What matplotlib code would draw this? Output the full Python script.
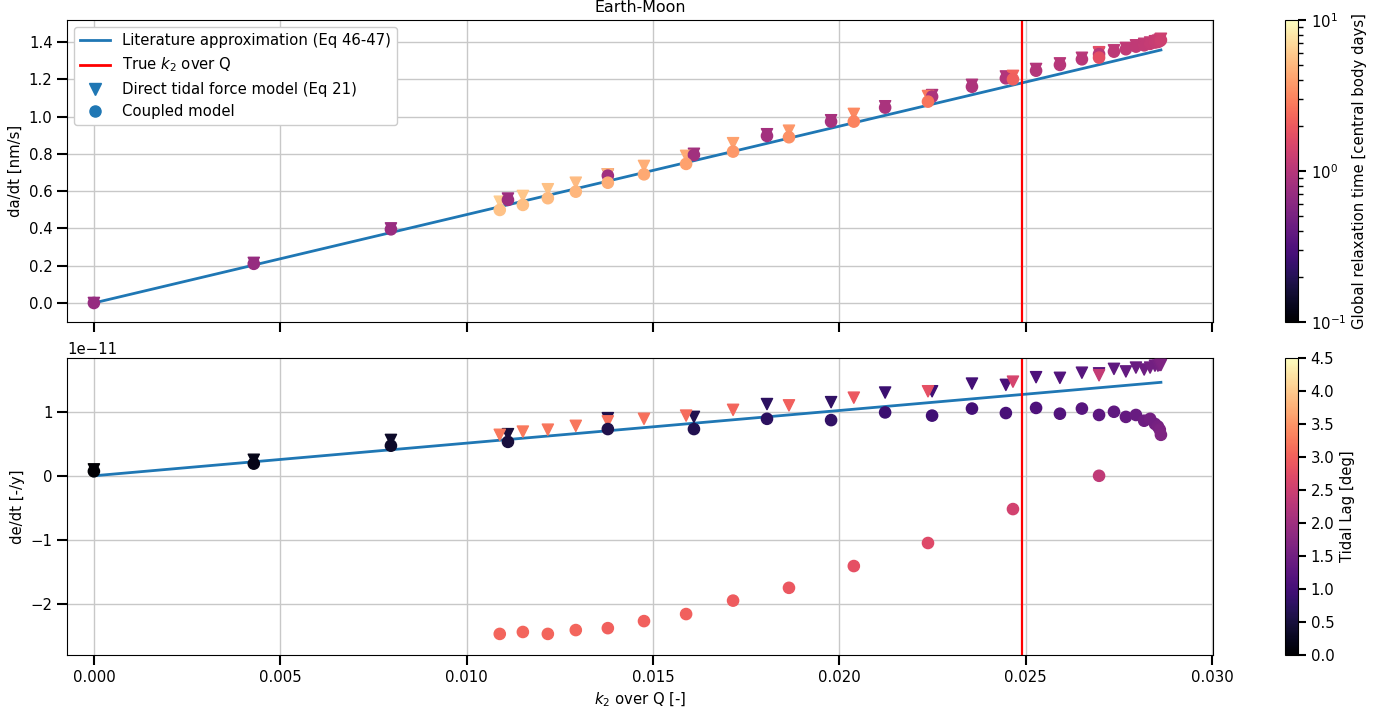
import numpy as np
import matplotlib
matplotlib.use("Agg")
import matplotlib.pyplot as plt
from matplotlib.colors import LogNorm, Normalize
from matplotlib.cm import ScalarMappable
from matplotlib.lines import Line2D

# sweep A (low relaxation time branch)
a_k2q = [0.0, 0.00429, 0.00797, 0.01111, 0.01379, 0.01610, 0.01806, 0.01978, 0.02123,
         0.02249, 0.02356, 0.02447, 0.02528, 0.02592, 0.02651, 0.02697, 0.02737, 0.02769,
         0.02796, 0.02818, 0.02834, 0.02847, 0.02855, 0.02860, 0.02863]
a_dadt_direct = [0.0, 0.215, 0.40, 0.56, 0.69, 0.80, 0.905, 0.98, 1.055, 1.115, 1.17, 1.215,
                 1.255, 1.285, 1.315, 1.342, 1.355, 1.368, 1.382, 1.39, 1.397, 1.404, 1.407,
                 1.412, 1.417]
a_dadt_coupled = [0.0, 0.21, 0.395, 0.553, 0.683, 0.794, 0.896, 0.973, 1.048, 1.107, 1.16,
                  1.205, 1.246, 1.277, 1.307, 1.335, 1.348, 1.361, 1.375, 1.382, 1.39, 1.397,
                  1.40, 1.405, 1.41]
a_dedt_direct = [0.10, 0.25, 0.56, 0.65, 0.90, 0.92, 1.12, 1.15, 1.30, 1.32, 1.44, 1.42, 1.54,
                 1.53, 1.61, 1.60, 1.67, 1.63, 1.69, 1.66, 1.69, 1.72, 1.72, 1.73, 1.73]
a_dedt_coupled = [0.07, 0.19, 0.47, 0.53, 0.73, 0.73, 0.89, 0.87, 0.99, 0.94, 1.05, 0.98, 1.06,
                  0.97, 1.05, 0.95, 1.00, 0.92, 0.95, 0.86, 0.89, 0.81, 0.77, 0.72, 0.64]
a_relax = [0.70, 0.70, 0.72, 0.75, 0.78, 0.80, 0.82, 0.85, 0.87, 0.90, 0.92, 0.95, 0.98, 1.0,
           1.02, 1.05, 1.08, 1.10, 1.12, 1.15, 1.18, 1.20, 1.22, 1.25, 1.30]
a_lag = [0.0, 0.2, 0.35, 0.5, 0.6, 0.65, 0.75, 0.8, 0.9, 0.95, 1.0, 1.05, 1.1, 1.15, 1.2, 1.25,
         1.3, 1.35, 1.4, 1.45, 1.5, 1.5, 1.55, 1.6, 1.65]

# sweep B (high relaxation time branch)
b_k2q = [0.01089, 0.01151, 0.01218, 0.01293, 0.01379, 0.01476, 0.01589, 0.01715, 0.01865,
         0.02039, 0.02238, 0.02466, 0.02697]
b_dadt_direct = [0.543, 0.574, 0.61, 0.645, 0.69, 0.735, 0.789, 0.857, 0.924, 1.014, 1.11,
                 1.218, 1.345]
b_dadt_coupled = [0.499, 0.526, 0.562, 0.597, 0.645, 0.69, 0.746, 0.812, 0.889, 0.973, 1.08,
                  1.20, 1.316]
b_dedt_direct = [0.64, 0.69, 0.72, 0.78, 0.85, 0.89, 0.94, 1.03, 1.10, 1.22, 1.32, 1.47, 1.57]
b_dedt_coupled = [-2.47, -2.44, -2.47, -2.41, -2.38, -2.27, -2.16, -1.95, -1.75, -1.41, -1.05,
                  -0.52, 0.0]
b_relax_direct = [6.2, 5.8, 5.5, 5.2, 4.9, 4.6, 4.3, 4.0, 3.6, 3.2, 2.7, 2.2, 1.7]
b_relax_coupled = [5.6, 5.4, 5.2, 4.9, 4.6, 4.3, 4.0, 3.7, 3.4, 3.0, 2.6, 2.1, 1.7]
b_lag_direct = [3.25, 3.25, 3.2, 3.2, 3.15, 3.15, 3.1, 3.05, 3.0, 2.9, 2.8, 2.6, 2.4]
b_lag_coupled = [3.05, 3.05, 3.05, 3.05, 3.0, 3.0, 3.0, 2.95, 2.9, 2.8, 2.7, 2.55, 2.35]

# literature approximation (Eq 46-47), straight line through origin
lit_k2q = [0.0, 0.02863]
lit_dadt = [0.0, 1.357]
lit_dedt = [0.0, 1.46]

true_k2q = 0.0249
cmap = "magma"
ms = 65
fs = 10.7

fig = plt.figure(figsize=(14, 7.13), dpi=100)
ax1 = fig.add_axes([0.0479, 0.5484, 0.8186, 0.4236])
ax2 = fig.add_axes([0.0479, 0.0813, 0.8186, 0.4166], sharex=ax1)
cax1 = fig.add_axes([0.918, 0.5484, 0.0088, 0.4236])
cax2 = fig.add_axes([0.918, 0.0813, 0.0088, 0.4166])

relax_norm = LogNorm(vmin=0.1, vmax=10)
lag_norm = Normalize(vmin=0.0, vmax=4.5)

# top: semi-major axis rate
ax1.plot(lit_k2q, lit_dadt, color="#1f77b4", lw=2, zorder=2)
ax1.axvline(true_k2q, color="red", lw=1.6, zorder=2)
ax1.scatter(a_k2q + b_k2q, a_dadt_direct + b_dadt_direct, c=a_relax + b_relax_direct,
            cmap=cmap, norm=relax_norm, marker="v", s=ms, zorder=3)
ax1.scatter(a_k2q + b_k2q, a_dadt_coupled + b_dadt_coupled, c=a_relax + b_relax_coupled,
            cmap=cmap, norm=relax_norm, marker="o", s=ms, zorder=3)

# bottom: eccentricity rate
e_scale = 1e-11
ax2.plot(lit_k2q, np.array(lit_dedt) * e_scale, color="#1f77b4", lw=2, zorder=2)
ax2.axvline(true_k2q, color="red", lw=1.6, zorder=2)
ax2.scatter(a_k2q + b_k2q, np.array(a_dedt_direct + b_dedt_direct) * e_scale,
            c=a_lag + b_lag_direct, cmap=cmap, norm=lag_norm, marker="v", s=ms, zorder=3)
ax2.scatter(a_k2q + b_k2q, np.array(a_dedt_coupled + b_dedt_coupled) * e_scale,
            c=a_lag + b_lag_coupled, cmap=cmap, norm=lag_norm, marker="o", s=ms, zorder=3)

ax1.set_xlim(-0.00072, 0.03003)
ax1.set_ylim(-0.102, 1.518)
ax2.set_ylim(-2.80e-11, 1.84e-11)
ax1.set_yticks([0.0, 0.2, 0.4, 0.6, 0.8, 1.0, 1.2, 1.4])
ax2.set_xticks([0.0, 0.005, 0.010, 0.015, 0.020, 0.025, 0.030])

for ax in (ax1, ax2):
    ax.grid(True, color="#c8c8c8", lw=1)
    ax.set_axisbelow(True)
    ax.tick_params(direction="out", length=7, width=1.5, labelsize=fs)
    ax.yaxis.get_offset_text().set_fontsize(fs)
ax1.tick_params(labelbottom=False)

ax1.set_title("Earth-Moon", fontsize=11.4)
ax1.set_ylabel("da/dt [nm/s]", fontsize=fs)
ax2.set_ylabel("de/dt [-/y]", fontsize=fs)
ax2.set_xlabel("$k_2$ over Q [-]", fontsize=fs)

handles = [
    Line2D([], [], color="#1f77b4", lw=2, label="Literature approximation (Eq 46-47)"),
    Line2D([], [], color="red", lw=2, label="True $k_2$ over Q"),
    Line2D([], [], color="#1f77b4", marker="v", ls="none", ms=8, label="Direct tidal force model (Eq 21)"),
    Line2D([], [], color="#1f77b4", marker="o", ls="none", ms=8, label="Coupled model"),
]
ax1.legend(handles=handles, loc="upper left", fontsize=fs, framealpha=1.0, edgecolor="#cccccc")

cb1 = fig.colorbar(ScalarMappable(norm=relax_norm, cmap=cmap), cax=cax1)
cb1.set_label("Global relaxation time [central body days]", fontsize=fs)
cb2 = fig.colorbar(ScalarMappable(norm=lag_norm, cmap=cmap), cax=cax2)
cb2.set_ticks([0.0, 0.5, 1.0, 1.5, 2.0, 2.5, 3.0, 3.5, 4.0, 4.5])
cb2.set_label("Tidal Lag [deg]", fontsize=fs)
for cb in (cb1, cb2):
    cb.ax.tick_params(length=6, width=1.5, labelsize=fs)
cb1.ax.tick_params(which="minor", length=3.5, width=1.0)

fig.savefig("out.png", dpi=100)
